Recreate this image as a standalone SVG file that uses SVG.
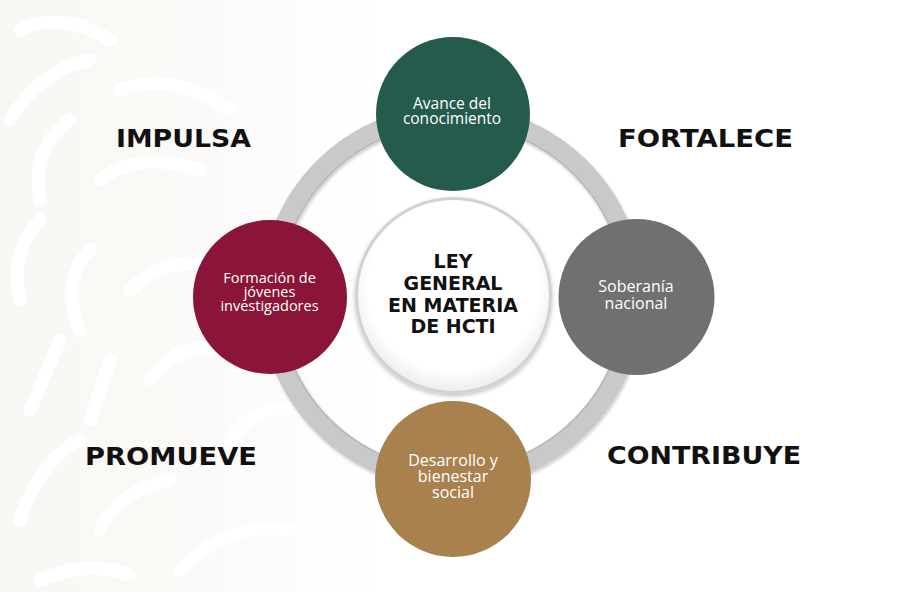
<svg xmlns="http://www.w3.org/2000/svg" width="903" height="592" viewBox="0 0 903 592">
  <defs>
    <style>
      .verb { font-family: "DejaVu Sans", "Liberation Sans", sans-serif; font-weight: bold; font-size: 24px; fill: #111111; text-anchor: middle; }
      .core { font-family: "DejaVu Sans", "Liberation Sans", sans-serif; font-weight: bold; font-size: 19px; fill: #111111; text-anchor: middle; }
      .lbl { font-family: "Open Sans", "Noto Sans", sans-serif; font-size: 15px; fill: #ffffff; text-anchor: middle; }
      .wm { fill: none; stroke: #ffffff; stroke-width: 13; stroke-linecap: round; }
    </style>
    <linearGradient id="bgfade" x1="0" y1="0" x2="1" y2="0">
      <stop offset="0" stop-color="#f8f7f3"/>
      <stop offset="0.55" stop-color="#fbfaf8"/>
      <stop offset="1" stop-color="#ffffff"/>
    </linearGradient>
    <radialGradient id="coreFill" cx="0.5" cy="0.45" r="0.55">
      <stop offset="0.8" stop-color="#ffffff"/>
      <stop offset="1" stop-color="#ececec"/>
    </radialGradient>
    <filter id="shadow" x="-20%" y="-20%" width="140%" height="140%">
      <feDropShadow dx="0" dy="2" stdDeviation="2" flood-color="#000000" flood-opacity="0.25"/>
    </filter>
    <filter id="ringShadow" x="-20%" y="-20%" width="140%" height="140%">
      <feDropShadow dx="1" dy="2" stdDeviation="1.5" flood-color="#000000" flood-opacity="0.2"/>
    </filter>
  </defs>

  <g id="background">
    <rect x="0" y="0" width="903" height="592" fill="#ffffff"/>
    <rect x="0" y="0" width="380" height="592" fill="url(#bgfade)"/>
    <path class="wm" d="M20 30 Q60 10 110 40"/>
    <path class="wm" d="M10 120 Q40 70 90 60"/>
    <path class="wm" d="M40 200 Q30 150 70 120"/>
    <path class="wm" d="M120 90 Q170 70 230 110"/>
    <path class="wm" d="M100 180 Q140 150 200 170"/>
    <path class="wm" d="M20 300 Q10 250 40 220"/>
    <path class="wm" d="M80 330 Q60 280 90 250"/>
    <path class="wm" d="M130 290 Q170 250 230 270"/>
    <path class="wm" d="M30 410 L60 340"/>
    <path class="wm" d="M90 420 L110 360"/>
    <path class="wm" d="M150 380 Q180 340 220 350"/>
    <path class="wm" d="M20 520 Q40 460 80 440"/>
    <path class="wm" d="M100 530 Q120 490 170 480"/>
    <path class="wm" d="M180 570 Q230 520 290 530"/>
    <path class="wm" d="M40 580 Q90 560 130 575"/>
    <path class="wm" d="M230 440 Q260 400 300 410"/>
  </g>

  <g id="connectors">
    <circle cx="452" cy="297" r="182" fill="none" stroke="#c9c9c9" stroke-width="20" filter="url(#ringShadow)"/>
    <circle cx="452" cy="297" r="173" fill="none" stroke="#b9b9b9" stroke-width="1.5"/>
  </g>

  <g id="node-core">
    <circle cx="453.5" cy="295.5" r="97" fill="url(#coreFill)" stroke="#d2d2d2" stroke-width="3" filter="url(#shadow)"/>
    <text class="core" x="453" y="268">LEY</text>
    <text class="core" x="453" y="290">GENERAL</text>
    <text class="core" x="453" y="312">EN MATERIA</text>
    <text class="core" x="453" y="333">DE HCTI</text>
  </g>

  <g id="node-avance">
    <circle cx="453" cy="114" r="77" fill="#245b4c"/>
    <text class="lbl" x="452" y="109" style="font-size:15.5px">Avance del</text>
    <text class="lbl" x="452" y="124" style="font-size:15.5px">conocimiento</text>
  </g>

  <g id="node-formacion">
    <circle cx="270" cy="297" r="77" fill="#8a1538"/>
    <text class="lbl" x="269.5" y="283" style="font-size:14.5px">Formación de</text>
    <text class="lbl" x="269.5" y="297" style="font-size:14.5px">jóvenes</text>
    <text class="lbl" x="269.5" y="311" style="font-size:14.5px">investigadores</text>
  </g>

  <g id="node-soberania">
    <circle cx="636.5" cy="297" r="78" fill="#6f706f"/>
    <text class="lbl" x="636" y="292" style="font-size:16px">Soberanía</text>
    <text class="lbl" x="636" y="309" style="font-size:16px">nacional</text>
  </g>

  <g id="node-desarrollo">
    <circle cx="453" cy="479" r="78" fill="#a9814f"/>
    <text class="lbl" x="453" y="466" style="font-size:16px">Desarrollo y</text>
    <text class="lbl" x="453" y="482" style="font-size:16px">bienestar</text>
    <text class="lbl" x="453" y="498" style="font-size:16px">social</text>
  </g>

  <g id="labels">
    <text class="verb" x="183.5" y="147" textLength="135" lengthAdjust="spacingAndGlyphs">IMPULSA</text>
    <text class="verb" x="705.5" y="147" textLength="175" lengthAdjust="spacingAndGlyphs">FORTALECE</text>
    <text class="verb" x="171" y="465" textLength="172" lengthAdjust="spacingAndGlyphs">PROMUEVE</text>
    <text class="verb" x="704" y="464" textLength="194" lengthAdjust="spacingAndGlyphs">CONTRIBUYE</text>
  </g>
</svg>
